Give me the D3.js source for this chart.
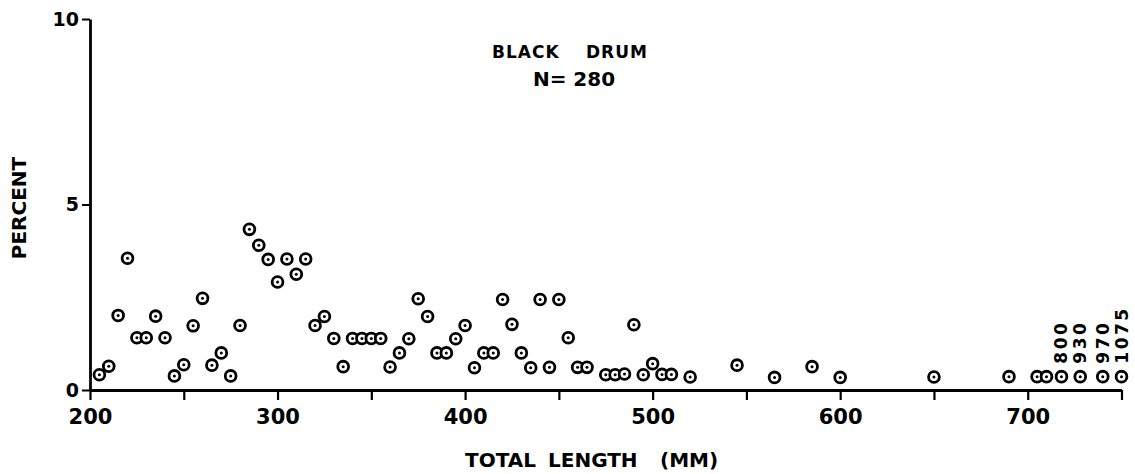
<!DOCTYPE html>
<html>
<head>
<meta charset="utf-8">
<script src="https://cdn.jsdelivr.net/npm/d3@7"></script>
<style>
  html, body { margin: 0; padding: 0; background: #fff; }
  svg { display: block; }
  text { font-family: "DejaVu Sans", sans-serif; font-weight: bold; fill: #000; }
</style>
</head>
<body>
<svg id="chart" width="1135" height="474"></svg>
<script>
// Length-frequency of black drum (total length, mm) with percent of catch
const lengths = [205, 210, 215, 220, 225, 230, 235, 240, 245, 250,
                 255, 260, 265, 270, 275, 280, 285, 290, 295, 300,
                 305, 310, 315, 320, 325, 330, 335, 340, 345, 350,
                 355, 360, 365, 370, 375, 380, 385, 390, 395, 400,
                 405, 410, 415, 420, 425, 430, 435, 440, 445, 450,
                 455, 460, 465, 475, 480, 485, 490, 495, 500, 505,
                 510, 520, 545, 565, 585, 600, 650, 690, 705, 710];
const percents = [0.41, 0.64, 2.01, 3.55, 1.41, 1.41, 1.99, 1.41, 0.38, 0.68,
                  1.73, 2.47, 0.67, 1.00, 0.38, 1.74, 4.33, 3.90, 3.52, 2.91,
                  3.53, 3.12, 3.53, 1.74, 1.98, 1.39, 0.63, 1.39, 1.39, 1.39,
                  1.39, 0.62, 1.00, 1.38, 2.46, 1.98, 1.00, 1.00, 1.38, 1.74,
                  0.60, 1.00, 1.00, 2.44, 1.77, 1.00, 0.60, 2.44, 0.61, 2.44,
                  1.41, 0.61, 0.61, 0.41, 0.41, 0.43, 1.76, 0.41, 0.71, 0.42,
                  0.42, 0.35, 0.67, 0.34, 0.63, 0.34, 0.35, 0.36, 0.36, 0.36];

// Fish longer than the axis: plotted at the right end, labelled with true length
const offscaleSlots = [718, 728, 740, 750];
const offscaleLengths = ["800", "930", "970", "1075"];
const offscalePercents = [0.36, 0.36, 0.36, 0.36];

const xTicks = [200, 250, 300, 350, 400, 450, 500, 550, 600, 650, 700, 750];
const xTickLabels = [200, 300, 400, 500, 600, 700];
const yTicks = [0, 5, 10];

const svg = d3.select("#chart");

const x = d3.scaleLinear().domain([200, 750]).range([90, 1121.5]);
const y = d3.scaleLinear().domain([0, 10]).range([390, 19]);

// x axis
const xAxis = d3.axisBottom(x)
  .tickValues(xTicks)
  .tickSize(10)
  .tickSizeOuter(0)
  .tickPadding(9)
  .tickFormat(d => xTickLabels.includes(d) ? String(d) : "");

const gx = svg.append("g")
  .attr("transform", `translate(0,${y(0)})`)
  .call(xAxis);
gx.select(".domain").attr("stroke", "#000").attr("stroke-width", 3);
gx.selectAll(".tick line").attr("stroke", "#000").attr("stroke-width", 2.2);
gx.selectAll(".tick text")
  .style("font-family", "'DejaVu Sans', sans-serif")
  .style("font-weight", "bold")
  .style("font-size", "21px")
  .attr("fill", "#000");

// y axis
const yAxis = d3.axisLeft(y)
  .tickValues(yTicks)
  .tickSize(8)
  .tickSizeOuter(0)
  .tickPadding(3)
  .tickFormat(d => String(d));

const gy = svg.append("g")
  .attr("transform", `translate(${x(200)},0)`)
  .call(yAxis);
gy.select(".domain").attr("stroke", "#000").attr("stroke-width", 2.8);
gy.selectAll(".tick line").attr("stroke", "#000").attr("stroke-width", 2);
gy.selectAll(".tick text")
  .style("font-family", "'DejaVu Sans', sans-serif")
  .style("font-weight", "bold")
  .style("font-size", "19px")
  .attr("fill", "#000");

// points: open circle with a dot in the centre
function drawPoints(xs, ps) {
  const g = svg.append("g");
  const pts = g.selectAll("g.pt")
    .data(xs.map((v, i) => ({ len: v, pct: ps[i] })))
    .join("g")
    .attr("class", "pt")
    .attr("transform", d => `translate(${x(d.len)},${y(d.pct)})`);
  pts.append("circle")
    .attr("r", 5.4)
    .attr("fill", "#fff")
    .attr("stroke", "#000")
    .attr("stroke-width", 2.8);
  pts.append("circle")
    .attr("r", 1.5)
    .attr("fill", "#000");
}
drawPoints(lengths, percents);
drawPoints(offscaleSlots, offscalePercents);

// vertical length labels above the off-scale points
svg.append("g")
  .selectAll("text")
  .data(offscaleSlots.map((v, i) => ({ slot: v, label: offscaleLengths[i], pct: offscalePercents[i] })))
  .join("text")
  .attr("transform", d => `translate(${x(d.slot) + 6},${y(d.pct) - 13}) rotate(-90)`)
  .attr("text-anchor", "start")
  .style("font-size", "17px")
  .style("letter-spacing", "2.5px")
  .text(d => d.label);

// titles
svg.append("text")
  .attr("x", 492).attr("y", 58)
  .style("font-size", "17px")
  .style("letter-spacing", "1px")
  .text("BLACK");
svg.append("text")
  .attr("x", 586).attr("y", 58)
  .style("font-size", "17px")
  .style("letter-spacing", "1px")
  .text("DRUM");
svg.append("text")
  .attr("x", 574).attr("y", 86)
  .attr("text-anchor", "middle")
  .style("font-size", "20px")
  .text("N= 280");

// axis titles
const xTitleWords = ["TOTAL", "LENGTH", "(MM)"];
const xTitleStarts = [465, 548, 660];
svg.append("g")
  .selectAll("text")
  .data(xTitleWords)
  .join("text")
  .attr("x", (d, i) => xTitleStarts[i])
  .attr("y", 467)
  .style("font-size", "20px")
  .text(d => d);

svg.append("text")
  .attr("transform", "translate(26,208) rotate(-90)")
  .attr("text-anchor", "middle")
  .style("font-size", "20px")
  .text("PERCENT");
</script>
</body>
</html>
